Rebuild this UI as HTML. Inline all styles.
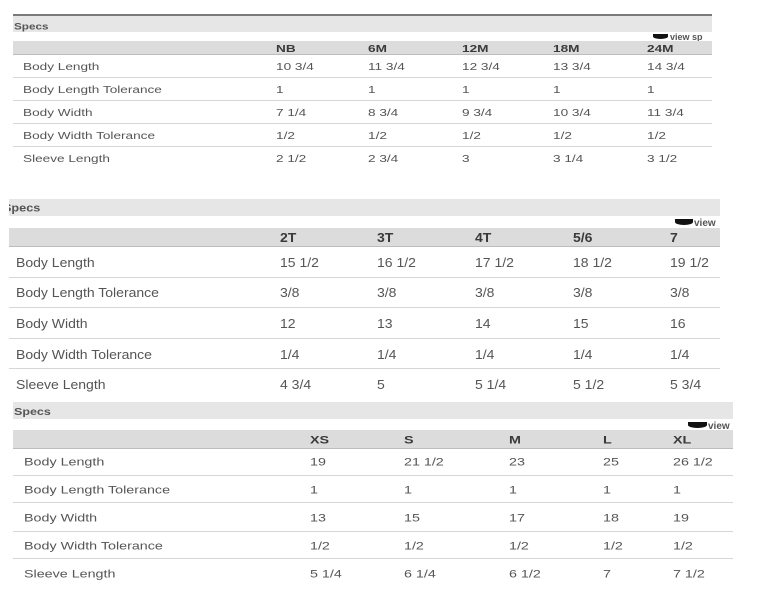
<!DOCTYPE html>
<html><head><meta charset="utf-8"><style>
html,body{margin:0;padding:0;background:#fff;}
body{width:763px;height:599px;position:relative;overflow:hidden;font-family:"Liberation Sans",Arial,sans-serif;}
.r{position:absolute;}
.t{position:absolute;white-space:nowrap;line-height:1;transform-origin:0 50%;color:#555;}
.b{font-weight:bold;color:#3a3a3a;}
.s1{font-size:10px;transform:translateY(calc(-50% + 2px)) scaleX(1.36);}
.s2{font-size:12.5px;transform:translateY(calc(-50% + 1px)) scaleX(1.12);}
.s3{font-size:11px;transform:translateY(calc(-50% + 2px)) scaleX(1.3);}
.band{position:absolute;background:#e6e6e6;}
.hdr{position:absolute;background:#dcdcdc;border-bottom:1px solid #bdbdbd;box-sizing:border-box;}
.sep{position:absolute;height:1px;background:#d6d6d6;}
.clip{position:absolute;overflow:hidden;}
.ico{position:absolute;background:#111;border-radius:0 0 50% 50%;}
.vw{position:absolute;white-space:nowrap;font-weight:bold;color:#555;line-height:1;}
</style></head><body>

<!-- TABLE 1 -->
<div class="r" style="left:13px;top:14px;width:699px;height:2px;background:#7a7a7a;"></div>
<div class="band" style="left:13px;top:16px;width:699px;height:16px;"></div>
<span class="t b" style="left:14px;top:25px;font-size:9px;transform:translateY(calc(-50% + 2px)) scaleX(1.3);color:#555;">Specs</span>
<div class="clip" style="left:640px;top:32px;width:72px;height:9px;">
  <div class="ico" style="left:13px;top:2px;width:15px;height:5px;"></div>
  <span class="vw" style="left:30px;top:1px;font-size:9px;">view sp</span>
</div>
<div class="hdr" style="left:13px;top:41px;width:699px;height:14px;"></div>
<span class="t b s1" style="left:276px;top:48px;">NB</span>
<span class="t b s1" style="left:368px;top:48px;">6M</span>
<span class="t b s1" style="left:462px;top:48px;">12M</span>
<span class="t b s1" style="left:553px;top:48px;">18M</span>
<span class="t b s1" style="left:647px;top:48px;">24M</span>
<div class="sep" style="left:13px;top:77px;width:699px;"></div>
<div class="sep" style="left:13px;top:100px;width:699px;"></div>
<div class="sep" style="left:13px;top:123px;width:699px;"></div>
<div class="sep" style="left:13px;top:146px;width:699px;"></div>

<span class="t s1" style="left:23px;top:66px;">Body Length</span>
<span class="t s1" style="left:276px;top:66px;">10 3/4</span>
<span class="t s1" style="left:368px;top:66px;">11 3/4</span>
<span class="t s1" style="left:462px;top:66px;">12 3/4</span>
<span class="t s1" style="left:553px;top:66px;">13 3/4</span>
<span class="t s1" style="left:647px;top:66px;">14 3/4</span>

<span class="t s1" style="left:23px;top:89px;">Body Length Tolerance</span>
<span class="t s1" style="left:276px;top:89px;">1</span>
<span class="t s1" style="left:368px;top:89px;">1</span>
<span class="t s1" style="left:462px;top:89px;">1</span>
<span class="t s1" style="left:553px;top:89px;">1</span>
<span class="t s1" style="left:647px;top:89px;">1</span>

<span class="t s1" style="left:23px;top:112px;">Body Width</span>
<span class="t s1" style="left:276px;top:112px;">7 1/4</span>
<span class="t s1" style="left:368px;top:112px;">8 3/4</span>
<span class="t s1" style="left:462px;top:112px;">9 3/4</span>
<span class="t s1" style="left:553px;top:112px;">10 3/4</span>
<span class="t s1" style="left:647px;top:112px;">11 3/4</span>

<span class="t s1" style="left:23px;top:135px;">Body Width Tolerance</span>
<span class="t s1" style="left:276px;top:135px;">1/2</span>
<span class="t s1" style="left:368px;top:135px;">1/2</span>
<span class="t s1" style="left:462px;top:135px;">1/2</span>
<span class="t s1" style="left:553px;top:135px;">1/2</span>
<span class="t s1" style="left:647px;top:135px;">1/2</span>

<span class="t s1" style="left:23px;top:158px;">Sleeve Length</span>
<span class="t s1" style="left:276px;top:158px;">2 1/2</span>
<span class="t s1" style="left:368px;top:158px;">2 3/4</span>
<span class="t s1" style="left:462px;top:158px;">3</span>
<span class="t s1" style="left:553px;top:158px;">3 1/4</span>
<span class="t s1" style="left:647px;top:158px;">3 1/2</span>

<!-- TABLE 2 -->
<div class="band" style="left:9px;top:199px;width:711px;height:17px;"></div>
<div class="clip" style="left:9px;top:199px;width:100px;height:17px;">
  <span class="t b" style="left:-6px;top:9px;font-size:11px;transform:translateY(calc(-50% + 1px)) scaleX(1.15);color:#555;">Specs</span>
</div>
<div class="clip" style="left:660px;top:216px;width:60px;height:12px;">
  <div class="ico" style="left:15px;top:3px;width:18px;height:6px;"></div>
  <span class="vw" style="left:34px;top:3px;font-size:10px;">view</span>
</div>
<div class="hdr" style="left:9px;top:228px;width:711px;height:19px;"></div>
<span class="t b s2" style="left:280px;top:237px;">2T</span>
<span class="t b s2" style="left:377px;top:237px;">3T</span>
<span class="t b s2" style="left:475px;top:237px;">4T</span>
<span class="t b s2" style="left:573px;top:237px;">5/6</span>
<span class="t b s2" style="left:670px;top:237px;">7</span>
<div class="sep" style="left:9px;top:277px;width:711px;"></div>
<div class="sep" style="left:9px;top:307px;width:711px;"></div>
<div class="sep" style="left:9px;top:338px;width:711px;"></div>
<div class="sep" style="left:9px;top:368px;width:711px;"></div>

<span class="t s2" style="left:16px;top:262px;">Body Length</span>
<span class="t s2" style="left:280px;top:262px;">15 1/2</span>
<span class="t s2" style="left:377px;top:262px;">16 1/2</span>
<span class="t s2" style="left:475px;top:262px;">17 1/2</span>
<span class="t s2" style="left:573px;top:262px;">18 1/2</span>
<span class="t s2" style="left:670px;top:262px;">19 1/2</span>

<span class="t s2" style="left:16px;top:292px;">Body Length Tolerance</span>
<span class="t s2" style="left:280px;top:292px;">3/8</span>
<span class="t s2" style="left:377px;top:292px;">3/8</span>
<span class="t s2" style="left:475px;top:292px;">3/8</span>
<span class="t s2" style="left:573px;top:292px;">3/8</span>
<span class="t s2" style="left:670px;top:292px;">3/8</span>

<span class="t s2" style="left:16px;top:323px;">Body Width</span>
<span class="t s2" style="left:280px;top:323px;">12</span>
<span class="t s2" style="left:377px;top:323px;">13</span>
<span class="t s2" style="left:475px;top:323px;">14</span>
<span class="t s2" style="left:573px;top:323px;">15</span>
<span class="t s2" style="left:670px;top:323px;">16</span>

<span class="t s2" style="left:16px;top:354px;">Body Width Tolerance</span>
<span class="t s2" style="left:280px;top:354px;">1/4</span>
<span class="t s2" style="left:377px;top:354px;">1/4</span>
<span class="t s2" style="left:475px;top:354px;">1/4</span>
<span class="t s2" style="left:573px;top:354px;">1/4</span>
<span class="t s2" style="left:670px;top:354px;">1/4</span>

<span class="t s2" style="left:16px;top:384px;">Sleeve Length</span>
<span class="t s2" style="left:280px;top:384px;">4 3/4</span>
<span class="t s2" style="left:377px;top:384px;">5</span>
<span class="t s2" style="left:475px;top:384px;">5 1/4</span>
<span class="t s2" style="left:573px;top:384px;">5 1/2</span>
<span class="t s2" style="left:670px;top:384px;">5 3/4</span>

<!-- TABLE 3 -->
<div class="band" style="left:13px;top:402px;width:720px;height:17px;"></div>
<span class="t b" style="left:14px;top:411px;font-size:10px;transform:translateY(calc(-50% + 2px)) scaleX(1.25);color:#555;">Specs</span>
<div class="clip" style="left:670px;top:419px;width:63px;height:11px;">
  <div class="ico" style="left:18px;top:3px;width:19px;height:6px;"></div>
  <span class="vw" style="left:38px;top:3px;font-size:10px;">view</span>
</div>
<div class="hdr" style="left:13px;top:430px;width:720px;height:19px;"></div>
<span class="t b s3" style="left:310px;top:439px;">XS</span>
<span class="t b s3" style="left:404px;top:439px;">S</span>
<span class="t b s3" style="left:509px;top:439px;">M</span>
<span class="t b s3" style="left:603px;top:439px;">L</span>
<span class="t b s3" style="left:673px;top:439px;">XL</span>
<div class="sep" style="left:13px;top:475px;width:720px;"></div>
<div class="sep" style="left:13px;top:502px;width:720px;"></div>
<div class="sep" style="left:13px;top:531px;width:720px;"></div>
<div class="sep" style="left:13px;top:558px;width:720px;"></div>

<span class="t s3" style="left:24px;top:461px;">Body Length</span>
<span class="t s3" style="left:310px;top:461px;">19</span>
<span class="t s3" style="left:404px;top:461px;">21 1/2</span>
<span class="t s3" style="left:509px;top:461px;">23</span>
<span class="t s3" style="left:603px;top:461px;">25</span>
<span class="t s3" style="left:673px;top:461px;">26 1/2</span>

<span class="t s3" style="left:24px;top:489px;">Body Length Tolerance</span>
<span class="t s3" style="left:310px;top:489px;">1</span>
<span class="t s3" style="left:404px;top:489px;">1</span>
<span class="t s3" style="left:509px;top:489px;">1</span>
<span class="t s3" style="left:603px;top:489px;">1</span>
<span class="t s3" style="left:673px;top:489px;">1</span>

<span class="t s3" style="left:24px;top:517px;">Body Width</span>
<span class="t s3" style="left:310px;top:517px;">13</span>
<span class="t s3" style="left:404px;top:517px;">15</span>
<span class="t s3" style="left:509px;top:517px;">17</span>
<span class="t s3" style="left:603px;top:517px;">18</span>
<span class="t s3" style="left:673px;top:517px;">19</span>

<span class="t s3" style="left:24px;top:545px;">Body Width Tolerance</span>
<span class="t s3" style="left:310px;top:545px;">1/2</span>
<span class="t s3" style="left:404px;top:545px;">1/2</span>
<span class="t s3" style="left:509px;top:545px;">1/2</span>
<span class="t s3" style="left:603px;top:545px;">1/2</span>
<span class="t s3" style="left:673px;top:545px;">1/2</span>

<span class="t s3" style="left:24px;top:573px;">Sleeve Length</span>
<span class="t s3" style="left:310px;top:573px;">5 1/4</span>
<span class="t s3" style="left:404px;top:573px;">6 1/4</span>
<span class="t s3" style="left:509px;top:573px;">6 1/2</span>
<span class="t s3" style="left:603px;top:573px;">7</span>
<span class="t s3" style="left:673px;top:573px;">7 1/2</span>

</body></html>
